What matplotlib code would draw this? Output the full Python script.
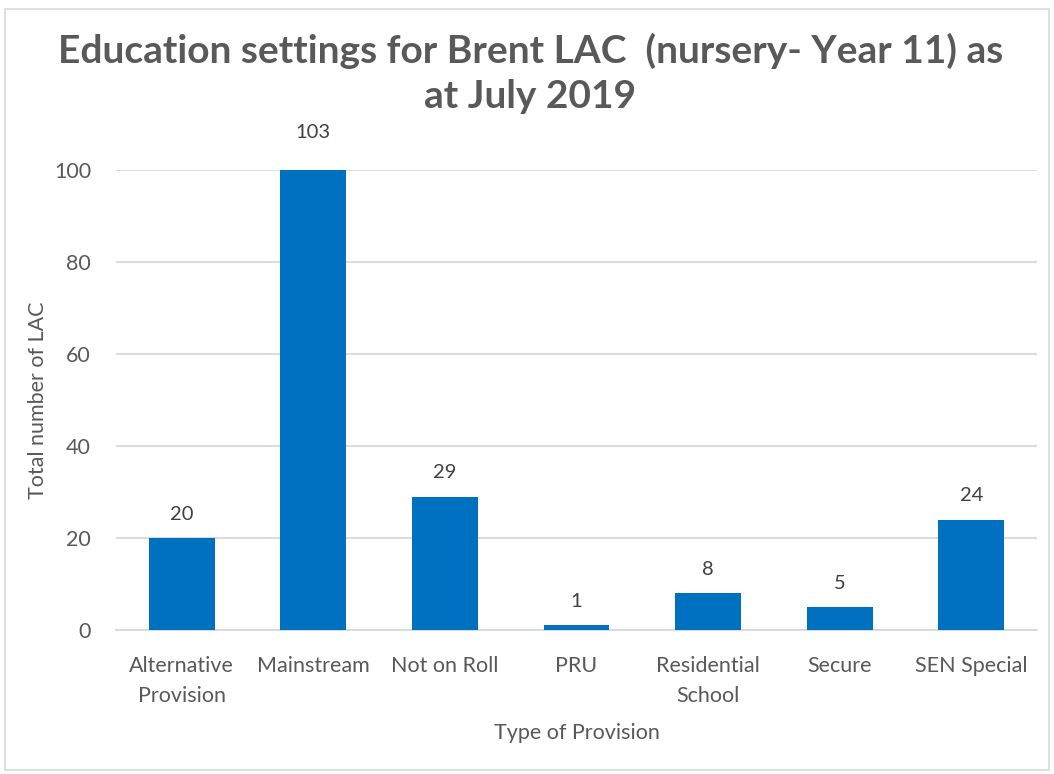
import matplotlib.pyplot as plt
from matplotlib.patches import Rectangle

categories = ["Alternative\nProvision", "Mainstream", "Not on Roll", "PRU",
              "Residential\nSchool", "Secure", "SEN Special"]
values = [20, 103, 29, 1, 8, 5, 24]
yticks = [0, 20, 40, 60, 80, 100]

plt.rcParams['font.family'] = ['Lato', 'DejaVu Sans']
grey = '#595959'

fig = plt.figure(figsize=(10.54, 7.74), dpi=100)
ax = fig.add_axes([0.110, 0.186, 0.874, 0.594])

x = range(len(categories))
ax.bar(x, values, width=0.5, color='#0070C0', zorder=3)
for i, v in enumerate(values):
    ax.annotate(str(v), (i, v), xytext=(0, 11), textcoords='offset points',
                ha='center', va='bottom', fontsize=14.5, color='#404040',
                annotation_clip=False)

ax.set_xlim(-0.5, len(categories) - 0.5)
ax.set_ylim(0, 100)
ax.set_yticks(yticks)
ax.set_xticks(list(x))
ax.set_xticklabels(categories, linespacing=1.6)
ax.grid(axis='y', color='#D9D9D9', linewidth=1.3, zorder=0)
for s in ['top', 'right', 'left']:
    ax.spines[s].set_visible(False)
ax.spines['bottom'].set_color('#D9D9D9')
ax.spines['bottom'].set_linewidth(1.3)
ax.tick_params(length=0, labelsize=15.5, labelcolor=grey)
ax.tick_params(axis='x', pad=19)
ax.tick_params(axis='y', pad=18)

ax.set_xlabel('Type of Provision', fontsize=15.5, color=grey, labelpad=12)
ax.set_ylabel('Total number of LAC', fontsize=15.5, color=grey, labelpad=4)

fig.suptitle('Education settings for Brent LAC  (nursery- Year 11) as\nat July 2019',
             x=0.503, y=0.957, fontsize=28, fontweight='bold', color=grey,
             linespacing=1.32)

fig.patches.append(Rectangle((0.005, 0.005), 0.99, 0.983, transform=fig.transFigure,
                             fill=False, edgecolor='#D9D9D9', linewidth=1.2))

fig.savefig('out.png', dpi=100)
